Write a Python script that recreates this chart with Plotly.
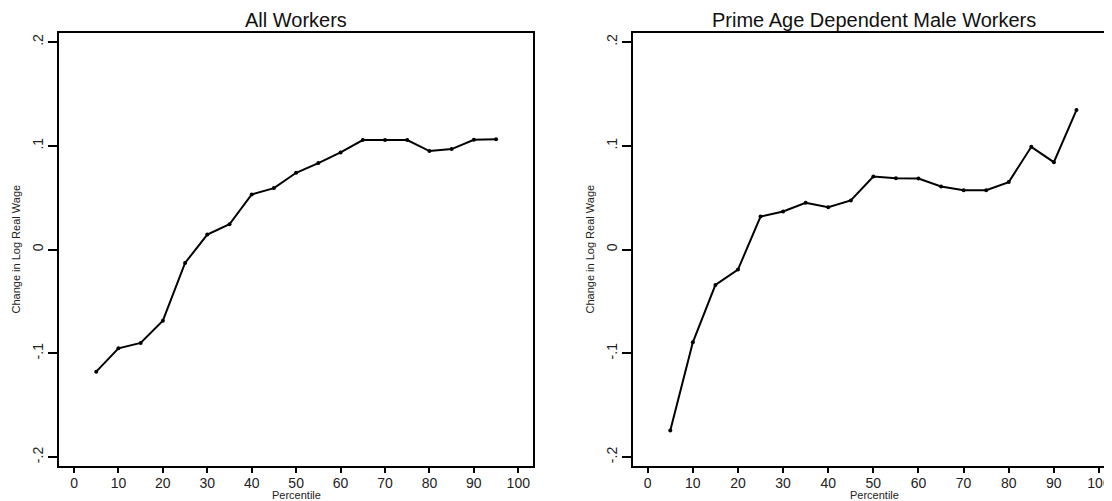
import plotly.graph_objects as go

# The page body has an 8px margin; the figure is sized so it fills the 1112x501 window.
OFF = 8
W, H = 1112 - OFF, 501 - OFF

percentiles = [5, 10, 15, 20, 25, 30, 35, 40, 45, 50, 55, 60, 65, 70, 75, 80, 85, 90, 95]
all_workers = [-0.1177, -0.0952, -0.0900, -0.0685, -0.0129, 0.0145, 0.0244, 0.0531, 0.0592,
               0.0740, 0.0833, 0.0936, 0.1055, 0.1055, 0.1055, 0.0949, 0.0968, 0.1058, 0.1064]
prime_age_male = [-0.1743, -0.0894, -0.0341, -0.0193, 0.0318, 0.0367, 0.0450, 0.0408, 0.0473,
                  0.0704, 0.0688, 0.0685, 0.0608, 0.0572, 0.0572, 0.0650, 0.0990, 0.0842, 0.1344]

titles = ["All Workers", "Prime Age Dependent Male Workers"]
y_title = "Change in Log Real Wage"
x_title = "Percentile"
x_ticks = [0, 10, 20, 30, 40, 50, 60, 70, 80, 90, 100]
y_tickvals = [-0.2, -0.1, 0, 0.1, 0.2]
y_ticktext = ["-.2", "-.1", "0", ".1", ".2"]

FONT = "Liberation Sans, Arial, sans-serif"


def px_x(p):
    return (p - OFF) / W


def px_y(p):
    return 1 - (p - OFF) / H


# screen-pixel geometry of the two plot regions
top_px, bot_px = 33, 466
left_dom = [px_x(59), px_x(533.3)]
right_dom = [px_x(633), 1.0]
y_dom = [px_y(bot_px), px_y(top_px)]

fig = go.Figure()
line_style = dict(color="black", width=2)
marker_style = dict(color="black", size=4)

fig.add_trace(go.Scatter(x=percentiles, y=all_workers, mode="lines+markers",
                         line=line_style, marker=marker_style, xaxis="x", yaxis="y",
                         showlegend=False))
fig.add_trace(go.Scatter(x=percentiles, y=prime_age_male, mode="lines+markers",
                         line=line_style, marker=marker_style, xaxis="x2", yaxis="y2",
                         showlegend=False))

xcommon = dict(tickvals=x_ticks, ticks="outside", ticklen=5, tickwidth=1.5, tickcolor="black",
               showline=True, linecolor="black", linewidth=1.5, showgrid=False, zeroline=False,
               ticklabelstandoff=-2,
               tickfont=dict(family=FONT, size=14, color="#222"), fixedrange=True)
ycommon = dict(tickvals=y_tickvals, ticktext=y_ticktext, ticks="outside", ticklen=9,
               tickwidth=1.5, tickcolor="black", showline=True, linecolor="black", linewidth=1.5,
               showgrid=False, zeroline=False, tickangle=-90, range=[-0.2086, 0.2087],
               tickfont=dict(family=FONT, size=14, color="#222"), fixedrange=True)

fig.update_layout(
    width=W, height=H,
    margin=dict(l=0, r=0, t=0, b=0),
    paper_bgcolor="white", plot_bgcolor="white",
    xaxis=dict(**xcommon, domain=left_dom, range=[-3.38, 103.38], anchor="y", mirror=True),
    yaxis=dict(**ycommon, domain=y_dom, anchor="x", mirror=True),
    xaxis2=dict(**xcommon, domain=right_dom, range=[-3.26, 102.88], anchor="y2", mirror=True),
    yaxis2=dict(**ycommon, domain=y_dom, anchor="x2", mirror=False),
)

annotations = []
for (a, b), t in zip([(59, 533.3), (633, 1115)], titles):
    cx = px_x((a + b) / 2)
    annotations.append(dict(text=t, x=cx, y=px_y(20), xref="paper", yref="paper",
                            xanchor="center", yanchor="middle", showarrow=False,
                            font=dict(family=FONT, size=20, color="#111")))
    annotations.append(dict(text=x_title, x=cx, y=px_y(495), xref="paper", yref="paper",
                            xanchor="center", yanchor="middle", showarrow=False,
                            font=dict(family=FONT, size=11, color="#222")))
for xpx in [15, 589]:
    annotations.append(dict(text=y_title, x=px_x(xpx), y=px_y(249.5), xref="paper", yref="paper",
                            xanchor="center", yanchor="middle", showarrow=False, textangle=-90,
                            font=dict(family=FONT, size=11, color="#222")))
fig.update_layout(annotations=annotations)

fig.write_html("out.html")
